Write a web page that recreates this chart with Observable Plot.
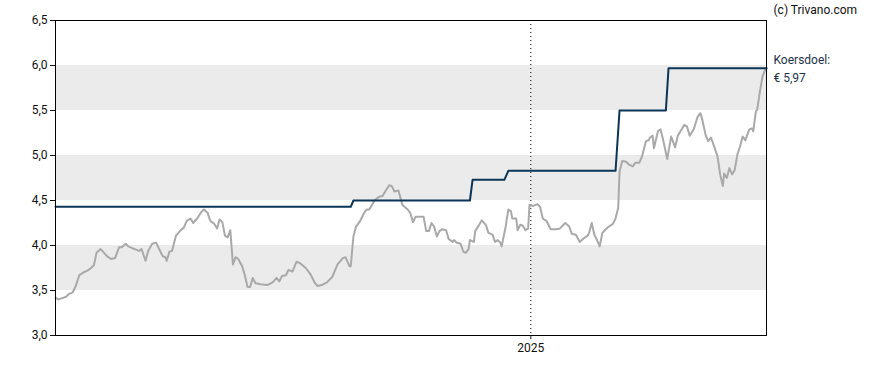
<!DOCTYPE html>
<html>
<head>
<meta charset="utf-8">
<script src="https://cdn.jsdelivr.net/npm/d3@7"></script>
<script src="https://cdn.jsdelivr.net/npm/@observablehq/plot@0.6"></script>
<style>
  html, body { margin: 0; padding: 0; background: #fff; }
  #chart svg { display: block; }
</style>
</head>
<body>
<div id="chart"></div>
<script>
// Koers (price) series
const priceDates = [
  "2024-01-08","2024-01-10","2024-01-12","2024-01-16","2024-01-18","2024-01-21","2024-01-23","2024-01-26","2024-01-29",
  "2024-02-01","2024-02-03","2024-02-06","2024-02-08","2024-02-11","2024-02-13","2024-02-16","2024-02-19","2024-02-22","2024-02-25","2024-02-27",
  "2024-03-01","2024-03-03","2024-03-06","2024-03-08","2024-03-11","2024-03-13","2024-03-16","2024-03-18","2024-03-21","2024-03-24","2024-03-26","2024-03-29","2024-03-31",
  "2024-04-01","2024-04-03","2024-04-05","2024-04-08","2024-04-11","2024-04-14","2024-04-16","2024-04-19","2024-04-21","2024-04-24","2024-04-27","2024-04-29",
  "2024-05-02","2024-05-04","2024-05-07","2024-05-09","2024-05-11","2024-05-13","2024-05-15","2024-05-17","2024-05-19","2024-05-21","2024-05-23","2024-05-25","2024-05-28","2024-05-30",
  "2024-06-01","2024-06-03","2024-06-05","2024-06-07","2024-06-11","2024-06-16","2024-06-20","2024-06-23","2024-06-25","2024-06-27","2024-06-30",
  "2024-07-02","2024-07-05","2024-07-08","2024-07-11","2024-07-15","2024-07-19","2024-07-22","2024-07-24","2024-07-27","2024-07-31",
  "2024-08-04","2024-08-08","2024-08-12","2024-08-14","2024-08-17","2024-08-18","2024-08-20","2024-08-22","2024-08-25","2024-08-28","2024-08-30",
  "2024-09-01","2024-09-03","2024-09-05","2024-09-08","2024-09-11","2024-09-13","2024-09-16","2024-09-18","2024-09-20","2024-09-23","2024-09-26","2024-09-30",
  "2024-10-02","2024-10-04","2024-10-06","2024-10-10","2024-10-12","2024-10-14","2024-10-16","2024-10-18","2024-10-20","2024-10-22","2024-10-24","2024-10-26","2024-10-29","2024-10-31",
  "2024-11-03","2024-11-04","2024-11-06","2024-11-09","2024-11-11","2024-11-13","2024-11-15","2024-11-16","2024-11-19","2024-11-20","2024-11-23","2024-11-25","2024-11-28","2024-11-30",
  "2024-12-03","2024-12-05","2024-12-07","2024-12-09","2024-12-10","2024-12-13","2024-12-15","2024-12-17","2024-12-18","2024-12-21","2024-12-22","2024-12-24","2024-12-26","2024-12-28","2024-12-30","2024-12-31",
  "2025-01-03","2025-01-06","2025-01-08","2025-01-10","2025-01-13","2025-01-16","2025-01-20","2025-01-23","2025-01-27","2025-01-30",
  "2025-02-01","2025-02-04","2025-02-07","2025-02-10","2025-02-13","2025-02-14","2025-02-16","2025-02-18","2025-02-20","2025-02-22","2025-02-24","2025-02-28",
  "2025-03-04","2025-03-06","2025-03-08","2025-03-09","2025-03-11","2025-03-14","2025-03-16","2025-03-19","2025-03-21","2025-03-24","2025-03-26","2025-03-29","2025-03-31",
  "2025-04-01","2025-04-03","2025-04-04","2025-04-07","2025-04-09","2025-04-11","2025-04-14","2025-04-17","2025-04-18","2025-04-20","2025-04-22","2025-04-24","2025-04-27","2025-04-29",
  "2025-05-01","2025-05-04","2025-05-07","2025-05-09","2025-05-10","2025-05-13","2025-05-15","2025-05-17","2025-05-19","2025-05-22","2025-05-24","2025-05-26","2025-05-27","2025-05-29","2025-05-31",
  "2025-06-02","2025-06-04","2025-06-06","2025-06-08","2025-06-10","2025-06-12","2025-06-15","2025-06-17","2025-06-18","2025-06-20","2025-06-21","2025-06-23","2025-06-25","2025-06-27","2025-06-28"
];
const priceValues = [
  3.42,3.40,3.41,3.43,3.46,3.48,3.54,3.67,3.70,
  3.72,3.74,3.78,3.92,3.96,3.93,3.88,3.85,3.86,3.98,3.98,
  4.02,3.99,3.97,3.96,3.94,3.96,3.83,3.94,4.02,4.03,3.97,3.88,3.87,
  3.83,3.93,3.94,4.11,4.16,4.20,4.27,4.30,4.25,4.30,4.37,4.40,
  4.36,4.27,4.24,4.19,4.29,4.26,4.11,4.09,4.17,3.79,3.87,3.85,3.77,3.67,
  3.54,3.54,3.64,3.58,3.57,3.56,3.59,3.64,3.60,3.66,3.67,
  3.73,3.71,3.82,3.80,3.75,3.67,3.58,3.55,3.56,3.59,
  3.65,3.79,3.86,3.87,3.77,3.77,4.10,4.21,4.27,4.36,4.40,
  4.40,4.45,4.50,4.54,4.55,4.60,4.67,4.66,4.60,4.61,4.45,4.40,
  4.36,4.26,4.32,4.32,4.32,4.16,4.16,4.25,4.21,4.10,4.16,4.18,4.17,4.07,
  4.04,4.06,4.03,4.02,3.93,3.92,3.96,4.06,4.04,4.16,4.23,4.28,4.23,4.14,
  4.12,4.04,4.06,4.03,3.99,4.21,4.40,4.38,4.30,4.30,4.17,4.23,4.22,4.17,4.19,4.45,
  4.44,4.46,4.43,4.30,4.27,4.18,4.18,4.19,4.25,4.21,
  4.13,4.12,4.04,4.08,4.11,4.14,4.25,4.12,4.06,3.99,4.14,4.20,
  4.24,4.30,4.42,4.82,4.94,4.93,4.90,4.88,4.92,4.92,4.99,5.16,5.17,
  5.20,5.22,5.08,5.27,5.29,5.17,4.96,5.21,5.17,5.09,5.22,5.27,5.34,5.32,
  5.22,5.29,5.43,5.47,5.43,5.23,5.16,5.20,5.12,4.99,4.79,4.66,4.80,4.75,4.86,
  4.79,4.84,5.01,5.10,5.21,5.17,5.29,5.30,5.27,5.49,5.51,5.71,5.88,5.95,5.97
];

// Koersdoel (price target) step line
const targetDates  = ["2024-01-08","2024-08-18","2024-08-20","2024-11-16","2024-11-18","2024-12-12","2024-12-15","2025-03-06","2025-03-09","2025-04-13","2025-04-15","2025-06-28"];
const targetValues = [4.43,4.43,4.50,4.50,4.73,4.73,4.83,4.83,5.50,5.50,5.97,5.97];

// Shaded horizontal bands
const bandLow  = [3.5, 4.5, 5.5];
const bandHigh = [4.0, 5.0, 6.0];

// Axis ticks and labels
const yTicks = [3.0, 3.5, 4.0, 4.5, 5.0, 5.5, 6.0, 6.5];
const xTickDates = ["2025-01-01"];
const xDomain = ["2024-01-08", "2025-06-28"];
const targetLabel = "Koersdoel:\n€ 5,97";
const copyright = "(c) Trivano.com";

const parse = d3.utcParse("%Y-%m-%d");
const price = priceDates.map((d, i) => ({date: parse(d), value: priceValues[i]}));
const target = targetDates.map((d, i) => ({date: parse(d), value: targetValues[i]}));
const bands = bandLow.map((lo, i) => ({lo, hi: bandHigh[i]}));
const lastTarget = target[target.length - 1];

const fmt = d => d.toFixed(1).replace(".", ",");

const chart = Plot.plot({
  width: 888,
  height: 370,
  marginLeft: 55,
  marginRight: 122,
  marginTop: 20,
  marginBottom: 35,
  style: {fontFamily: "Roboto, 'Liberation Sans', sans-serif", fontSize: "12px", color: "#111", background: "#fff"},
  x: {type: "utc", domain: xDomain.map(parse)},
  y: {domain: [3, 6.5]},
  marks: [
    Plot.rect(bands, {y1: "lo", y2: "hi", fill: "#ebebeb"}),
    Plot.ruleX(xTickDates.map(parse), {stroke: "#000", strokeWidth: 1, strokeDasharray: "1,3"}),
    Plot.line(price, {x: "date", y: "value", stroke: "#a9a9a9", strokeWidth: 2}),
    Plot.line(target, {x: "date", y: "value", stroke: "#0b3556", strokeWidth: 2}),
    Plot.frame({stroke: "#000", strokeWidth: 1}),
    Plot.axisY({ticks: yTicks, tickFormat: fmt, tickSize: 5, tickPadding: 3, label: null, fontSize: 12}),
    Plot.axisX({ticks: xTickDates.map(parse), tickFormat: d3.utcFormat("%Y"), tickSize: 4, tickPadding: 4, label: null, fontSize: 12}),
    Plot.text([lastTarget], {x: "date", y: "value", text: () => targetLabel, textAnchor: "start", dx: 7, dy: -1, lineHeight: 1.55, fill: "#1d3349", fontSize: 12}),
    Plot.text([copyright], {frameAnchor: "top-right", text: d => d, textAnchor: "start", dx: 7, dy: -15, fill: "#111", fontSize: 12})
  ]
});
document.getElementById("chart").appendChild(chart);
</script>
</body>
</html>
